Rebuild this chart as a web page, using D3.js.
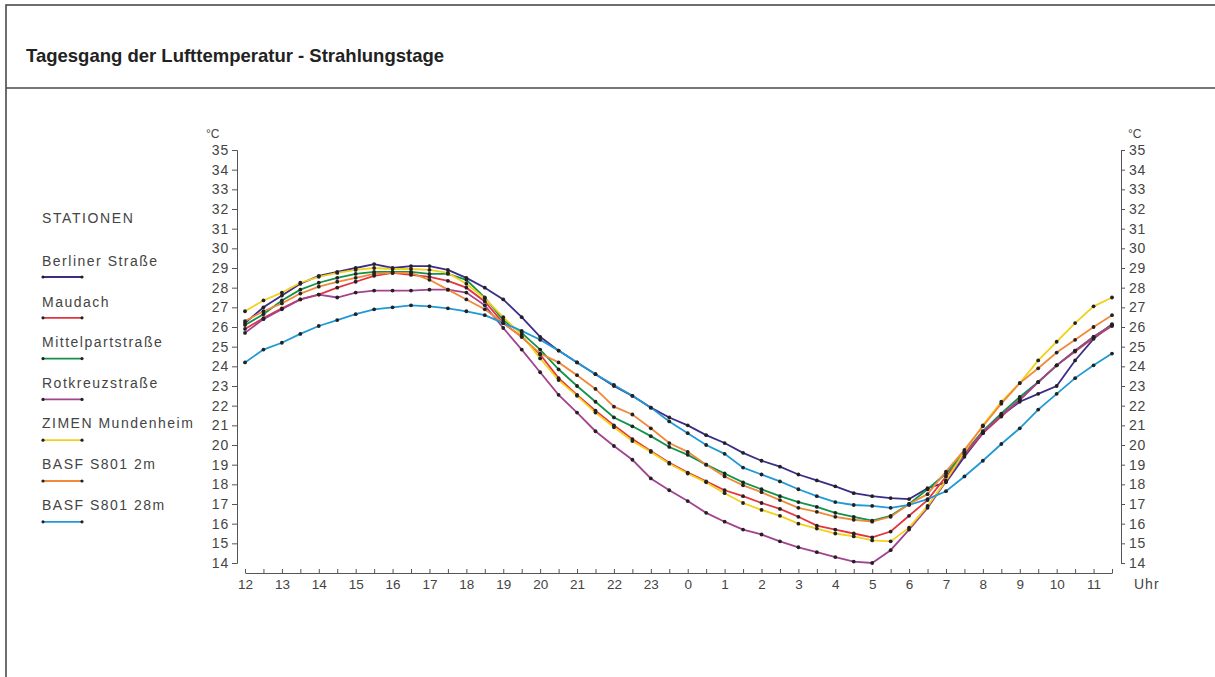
<!DOCTYPE html>
<html>
<head>
<meta charset="utf-8">
<script src="https://d3js.org/d3.v7.min.js"></script>
<style>
  body { margin: 0; background: #fff; }
  text { font-family: "Liberation Sans", Arial, sans-serif; }
</style>
</head>
<body>
<div id="chart-area"></div>
<script>
/*
*    Tagesgang der Lufttemperatur - Strahlungstage
*/
var hourLabels = ["12","13","14","15","16","17","18","19","20","21","22","23",
                  "0","1","2","3","4","5","6","7","8","9","10","11"];
var yTicks = d3.range(14, 36);

var stations = ["Berliner Straße", "Maudach", "Mittelpartstraße", "Rotkreuzstraße",
                "ZIMEN Mundenheim", "BASF S801 2m", "BASF S801 28m"];
var colors = ["#3a2d86", "#e3343f", "#14924a", "#a2438f", "#f2d11b", "#f08a3a", "#1f9ad6"];

// half-hourly values, 12:00 ... 11:30
var berliner = [26.2,27.0,27.6,28.2,28.6,28.8,29.0,29.2,29.0,29.1,29.1,28.9,28.5,28.0,27.4,26.5,
  25.5,24.8,24.2,23.6,23.0,22.5,21.9,21.4,21.0,20.5,20.1,19.6,19.2,18.9,18.5,18.2,
  17.9,17.55,17.4,17.3,17.25,17.8,18.1,19.4,20.6,21.5,22.2,22.6,23.0,24.3,25.4,26.15];
var maudach = [25.9,26.45,26.95,27.4,27.65,28.0,28.3,28.6,28.75,28.65,28.55,28.35,28.0,27.3,26.2,25.5,
  24.6,23.4,22.55,21.75,21.0,20.3,19.7,19.1,18.6,18.15,17.7,17.4,17.05,16.75,16.35,15.9,
  15.7,15.5,15.3,15.6,16.4,17.2,18.4,19.5,20.6,21.45,22.3,23.2,24.05,24.75,25.45,26.05];
var mittelpart = [26.1,26.65,27.35,27.9,28.25,28.5,28.7,28.8,28.8,28.8,28.7,28.7,28.4,27.5,26.35,25.7,
  24.85,23.85,23.0,22.2,21.4,20.95,20.45,19.9,19.5,19.0,18.55,18.1,17.75,17.4,17.1,16.85,
  16.55,16.35,16.15,16.4,17.0,17.75,18.55,19.6,20.7,21.6,22.45,23.2,24.05,24.8,25.5,26.1];
var rotkreuz = [25.7,26.4,26.9,27.4,27.65,27.5,27.75,27.85,27.85,27.85,27.9,27.9,27.75,27.1,25.95,24.85,
  23.7,22.55,21.65,20.7,19.95,19.25,18.3,17.7,17.15,16.55,16.1,15.7,15.45,15.1,14.8,14.55,
  14.3,14.07,14.0,14.65,15.7,16.8,18.15,19.55,20.65,21.5,22.3,23.2,24.05,24.8,25.5,26.1];
var zimen = [26.8,27.35,27.75,28.25,28.55,28.75,28.9,29.0,28.95,28.95,28.9,28.75,28.2,27.45,26.5,25.6,
  24.4,23.3,22.5,21.65,20.9,20.2,19.65,19.05,18.55,18.1,17.55,17.05,16.7,16.4,16.0,15.75,
  15.5,15.35,15.15,15.1,15.8,16.9,18.2,19.65,21.0,22.2,23.15,24.3,25.25,26.2,27.05,27.5];
var basf2 = [26.3,26.8,27.2,27.7,28.05,28.3,28.5,28.7,28.75,28.75,28.4,27.9,27.4,26.9,26.2,25.5,
  24.65,24.2,23.55,22.85,21.95,21.55,20.85,20.1,19.65,19.0,18.4,17.95,17.6,17.2,16.8,16.6,
  16.35,16.2,16.1,16.35,17.0,17.5,18.65,19.75,20.95,22.1,23.15,23.9,24.7,25.35,26.0,26.6];
var basf28 = [24.2,24.85,25.2,25.65,26.05,26.35,26.65,26.9,27.0,27.1,27.05,26.95,26.8,26.6,26.2,25.8,
  25.35,24.8,24.2,23.6,23.05,22.5,21.9,21.2,20.6,20.0,19.55,18.85,18.5,18.15,17.75,17.4,
  17.1,16.95,16.9,16.8,16.95,17.25,17.65,18.4,19.2,20.05,20.85,21.8,22.6,23.4,24.05,24.65];

var series = [berliner, maudach, mittelpart, rotkreuz, zimen, basf2, basf28];

var width = 1215;
var height = 677;
var textColor = "#444";

var svg = d3.select("#chart-area")
    .append("svg")
    .attr("width", width)
    .attr("height", height);

// frame + header
svg.append("rect")
    .attr("x", 6).attr("y", 5)
    .attr("width", width + 20).attr("height", height + 20)
    .attr("fill", "none").attr("stroke", "#4a4a4a").attr("stroke-width", 1.6);
svg.append("line")
    .attr("x1", 6).attr("x2", width)
    .attr("y1", 88).attr("y2", 88)
    .attr("stroke", "#4a4a4a").attr("stroke-width", 1.6);
svg.append("text")
    .attr("x", 26).attr("y", 62)
    .attr("font-size", "18.5px").attr("font-weight", "bold")
    .attr("fill", "#222")
    .text("Tagesgang der Lufttemperatur - Strahlungstage");

var x = d3.scaleLinear().domain([0, 47]).range([245, 1112]);
var y = d3.scaleLinear().domain([14, 35]).range([563, 150]);

// axes
var xAxisCall = d3.axisBottom(x)
    .tickValues(d3.range(48))
    .tickSizeInner(-4).tickSizeOuter(0).tickPadding(6)
    .tickFormat((i) => { return i % 2 === 0 ? hourLabels[i / 2] : ""; });
var xAxisGroup = svg.append("g")
    .attr("transform", "translate(0, 573)")
    .call(xAxisCall);
xAxisGroup.selectAll("text")
    .attr("font-size", "13.5px");

var yAxisLeft = svg.append("g")
    .attr("transform", "translate(237, 0)")
    .call(d3.axisLeft(y).tickValues(yTicks).tickSize(5).tickPadding(3).tickFormat(d3.format("d")));
var yAxisRight = svg.append("g")
    .attr("transform", "translate(1121, 0)")
    .call(d3.axisRight(y).tickValues(yTicks).tickSize(4).tickPadding(4).tickFormat(d3.format("d")));
svg.selectAll(".y-lab").remove();
yAxisLeft.selectAll("text").attr("font-size", "14px").attr("letter-spacing", "0.8px");
yAxisRight.selectAll("text").attr("font-size", "14px").attr("letter-spacing", "0.8px");

svg.selectAll(".tick text")
    .attr("font-family", "'Liberation Sans', Arial, sans-serif")
    .attr("fill", textColor);
svg.selectAll(".domain, .tick line")
    .attr("stroke", "#555");

svg.append("text").attr("x", 206).attr("y", 138)
    .attr("font-size", "12px").attr("fill", textColor).text("°C");
svg.append("text").attr("x", 1128).attr("y", 138)
    .attr("font-size", "12px").attr("fill", textColor).text("°C");
svg.append("text").attr("x", 1134).attr("y", 589)
    .attr("font-size", "14px").attr("letter-spacing", "1px")
    .attr("fill", textColor).text("Uhr");

// lines
var line = d3.line()
    .x((d, i) => { return x(i); })
    .y((d) => { return y(d); });

var g = svg.append("g");
series.forEach((values, k) => {
    g.append("path")
        .datum(values)
        .attr("fill", "none")
        .attr("stroke", colors[k])
        .attr("stroke-width", 1.8)
        .attr("d", line);
});
series.forEach((values, k) => {
    g.selectAll(".dot" + k)
        .data(values)
        .enter().append("circle")
        .attr("class", "dot" + k)
        .attr("cx", (d, i) => { return x(i); })
        .attr("cy", (d) => { return y(d); })
        .attr("r", 1.9)
        .attr("fill", "#222");
});

// legend
var legend = svg.append("g");
legend.append("text")
    .attr("x", 42).attr("y", 223)
    .attr("font-size", "14px").attr("letter-spacing", "1.6px")
    .attr("fill", textColor)
    .text("STATIONEN");
stations.forEach((name, k) => {
    var ty = 266 + k * 40.6;
    var ly = 277 + k * 40.8;
    legend.append("text")
        .attr("x", 42).attr("y", ty)
        .attr("font-size", "14px").attr("letter-spacing", "1.5px")
        .attr("fill", textColor)
        .text(name);
    legend.append("line")
        .attr("x1", 43).attr("x2", 82)
        .attr("y1", ly).attr("y2", ly)
        .attr("stroke", colors[k]).attr("stroke-width", 1.8);
    legend.selectAll(".ld" + k)
        .data([43, 82])
        .enter().append("circle")
        .attr("cx", (d) => { return d; })
        .attr("cy", ly)
        .attr("r", 1.6)
        .attr("fill", "#222");
});
</script>
</body>
</html>
